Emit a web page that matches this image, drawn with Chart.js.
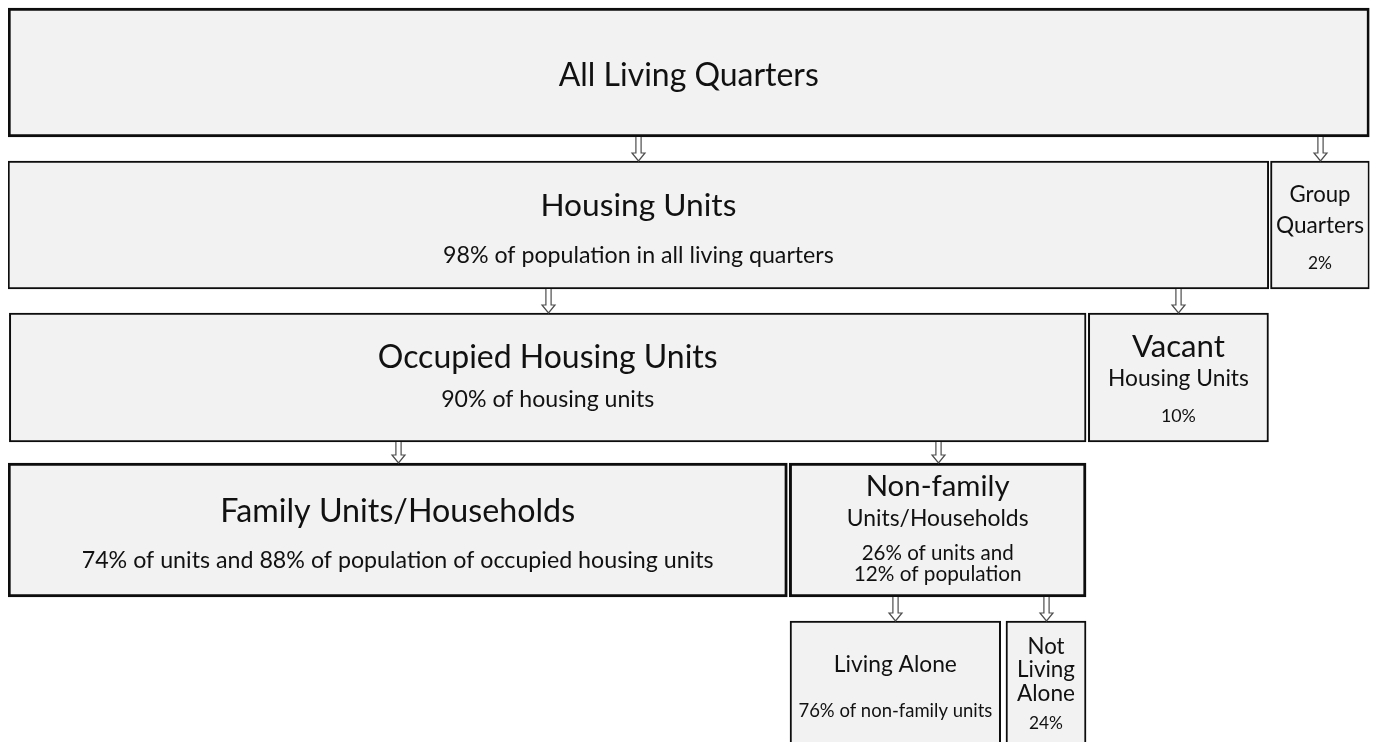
<!DOCTYPE html>
<html>
<head>
<meta charset="utf-8">
<script src="https://cdn.jsdelivr.net/npm/chart.js@4/dist/chart.umd.min.js"></script>
<style>
  html, body { margin: 0; padding: 0; background: #ffffff; }
  #wrap { width: 1376px; height: 742px; }
</style>
</head>
<body>
<div id="wrap"><canvas id="c" width="1376" height="742"></canvas></div>
<script>
// ---- DATA ----
const levels = [1, 2, 3, 4, 5];
const boxNames = [
  ["All Living Quarters"],
  ["Housing Units", "Group Quarters"],
  ["Occupied Housing Units", "Vacant Housing Units"],
  ["Family Units/Households", "Non-family Units/Households"],
  ["Living Alone", "Not Living Alone"]
];
// horizontal extent of each box (share of the full width, 0-100)
const boxStart = [[0], [0, 92.73], [0.1, 79.35], [0, 57.38], [57.44, 73.3]];
const boxEnd   = [[100], [92.6, 100], [79.18, 92.58], [57.24, 79.18], [72.91, 79.18]];
// parent box of each box ([level index, box index]) for the arrows
const boxParent = [[null], [[0, 0], [0, 0]], [[1, 0], [1, 0]], [[2, 0], [2, 0]], [[3, 1], [3, 1]]];
// text lines shown in each box
const boxText = [
  [["All Living Quarters"]],
  [["Housing Units", "98% of population in all living quarters"], ["Group", "Quarters", "2%"]],
  [["Occupied Housing Units", "90% of housing units"], ["Vacant", "Housing Units", "10%"]],
  [["Family Units/Households", "74% of units and 88% of population of occupied housing units"],
   ["Non-family", "Units/Households", "26% of units and", "12% of population"]],
  [["Living Alone", "76% of non-family units"], ["Not", "Living", "Alone", "24%"]]
];

// ---- STYLE (layout of text: [target width px, baseline offset from box top px]) ----
const textStyle = [
  [[[260, 78]]],
  [[[196, 55], [391, 101.7]], [[61, 40.7], [88, 71.7], [24, 108.3]]],
  [[[340, 55.3], [213, 93.7]], [[93, 43.7], [141, 73], [35, 109.3]]],
  [[[355, 58.7], [632, 105.3]], [[144, 32.7], [182, 62.7], [152, 97], [168, 117.7]]],
  [[[123, 51.3], [194, 96.3]], [[37, 33], [58, 56.3], [58, 79.7], [34, 108.3]]]
];
const rowThickness = [129, 128, 129, 134, 123];
const rowBorder = [3, 2, 2, 3, 2];
const FONT = "Lato, 'Open Sans', sans-serif";

const datasets = levels.map((lv, i) => ({
  label: 'Level ' + lv,
  data: boxStart[i].map((s, j) => ({ x: [s, boxEnd[i][j]], y: lv, name: boxNames[i][j] })),
  backgroundColor: '#f2f2f2',
  borderColor: '#0d0d0d',
  borderWidth: rowBorder[i],
  borderSkipped: false,
  barThickness: rowThickness[i],
  grouped: false
}));

function boxRect(chart, i, j) {
  const el = chart.getDatasetMeta(i).data[j];
  const p = el.getProps(['x', 'y', 'base', 'height'], true);
  const left = Math.min(p.x, p.base), right = Math.max(p.x, p.base);
  return { left, right, top: p.y - p.height / 2, bottom: p.y + p.height / 2, cx: (left + right) / 2 };
}

const diagramPlugin = {
  id: 'diagram',
  afterDatasetsDraw(chart) {
    const ctx = chart.ctx;
    ctx.save();
    // text
    ctx.fillStyle = '#111111';
    ctx.textAlign = 'center';
    ctx.textBaseline = 'alphabetic';
    boxText.forEach((row, i) => {
      row.forEach((lines, j) => {
        const r = boxRect(chart, i, j);
        lines.forEach((t, k) => {
          const [w, off] = textStyle[i][j][k];
          ctx.font = '100px ' + FONT;
          const m = ctx.measureText(t).width;
          const size = 100 * w / m;
          ctx.font = size.toFixed(2) + 'px ' + FONT;
          ctx.fillText(t, r.cx, r.top + off);
        });
      });
    });
    // arrows parent -> child
    ctx.lineWidth = 1.2;
    ctx.strokeStyle = '#4d4d4d';
    ctx.fillStyle = '#ffffff';
    boxParent.forEach((row, i) => {
      row.forEach((par, j) => {
        if (!par) return;
        const c = boxRect(chart, i, j);
        const p = boxRect(chart, par[0], par[1]);
        const x = Math.round(c.cx) + 0.5;
        const top = p.bottom, bot = c.top;
        const hh = 8, sw = 2.6, hw = 6.5;
        ctx.beginPath();
        ctx.moveTo(x - sw, top);
        ctx.lineTo(x - sw, bot - hh);
        ctx.lineTo(x - hw, bot - hh);
        ctx.lineTo(x, bot);
        ctx.lineTo(x + hw, bot - hh);
        ctx.lineTo(x + sw, bot - hh);
        ctx.lineTo(x + sw, top);
        ctx.fill();
        ctx.stroke();
      });
    });
    ctx.restore();
  }
};

new Chart(document.getElementById('c'), {
  type: 'bar',
  data: { datasets },
  options: {
    indexAxis: 'y',
    responsive: false,
    animation: false,
    events: [],
    layout: { padding: { left: 8, right: 6.5, top: 0, bottom: 0 } },
    scales: {
      x: { type: 'linear', min: 0, max: 100, bounds: 'data', offset: false, display: false },
      y: { type: 'linear', reverse: true, min: 0.5246, max: 5.3902, bounds: 'data', offset: false,
           display: false, ticks: { stepSize: 1 } }
    },
    plugins: { legend: { display: false }, tooltip: { enabled: false } }
  },
  plugins: [diagramPlugin]
});
</script>
</body>
</html>
